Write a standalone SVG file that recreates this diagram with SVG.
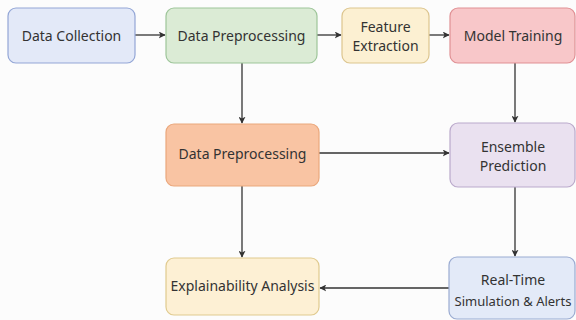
<svg xmlns="http://www.w3.org/2000/svg" width="576" height="320" viewBox="0 0 576 320">
<style>
  text { font-family: "Noto Sans", "Open Sans", sans-serif; font-size: 14px; fill: #333333; text-anchor: middle; dominant-baseline: central; }
  .box { stroke-width: 1.2; }
  .edge { stroke: #333333; stroke-width: 1.3; fill: none; marker-end: url(#ah); }
</style>
<defs>
  <marker id="ah" viewBox="0 0 10 10" refX="9" refY="5" markerWidth="7" markerHeight="7" markerUnits="userSpaceOnUse" orient="auto">
    <path d="M0,0 L10,5 L0,10 L2.5,5 Z" fill="#333333"/>
  </marker>
</defs>
<rect width="576" height="320" fill="#fcfcfc"/>
<g id="connectors">
  <line class="edge" x1="135" y1="35" x2="165" y2="35"/>
  <line class="edge" x1="317" y1="35" x2="341" y2="35"/>
  <line class="edge" x1="429" y1="35" x2="449" y2="35"/>
  <line class="edge" x1="242" y1="63" x2="242" y2="123"/>
  <line class="edge" x1="515" y1="63" x2="515" y2="122"/>
  <line class="edge" x1="319" y1="153" x2="449" y2="153"/>
  <line class="edge" x1="242" y1="186" x2="242" y2="257"/>
  <line class="edge" x1="515" y1="187" x2="515" y2="256"/>
  <line class="edge" x1="449" y1="288" x2="320" y2="288"/>
</g>
<g id="data-collection">
  <rect class="box" x="8" y="8" width="127" height="55" rx="8" fill="#e3e9f8" stroke="#93a6d6"/>
  <text x="71.5" y="35">Data Collection</text>
</g>
<g id="data-preprocessing-1">
  <rect class="box" x="166" y="8" width="151" height="55" rx="8" fill="#dbebd5" stroke="#9dc599"/>
  <text x="241.5" y="35">Data Preprocessing</text>
</g>
<g id="feature-extraction">
  <rect class="box" x="342" y="8" width="87" height="55" rx="8" fill="#fcf0d2" stroke="#dcc58e"/>
  <text x="385.5" y="26">Feature</text>
  <text x="385.5" y="45">Extraction</text>
</g>
<g id="model-training">
  <rect class="box" x="450" y="8" width="125" height="55" rx="8" fill="#f8c7c9" stroke="#e09094"/>
  <text x="513" y="35">Model Training</text>
</g>
<g id="data-preprocessing-2">
  <rect class="box" x="166" y="124" width="153" height="62" rx="8" fill="#f9c4a3" stroke="#eaa77c"/>
  <text x="242.5" y="153.5">Data Preprocessing</text>
</g>
<g id="ensemble-prediction">
  <rect class="box" x="450" y="123" width="125" height="64" rx="8" fill="#eae1f0" stroke="#baa9cb"/>
  <text x="513" y="146">Ensemble</text>
  <text x="513" y="165">Prediction</text>
</g>
<g id="explainability-analysis">
  <rect class="box" x="166" y="258" width="153" height="57" rx="8" fill="#fdf0d4" stroke="#e0ca8e"/>
  <text x="242.5" y="285">Explainability Analysis</text>
</g>
<g id="real-time">
  <rect class="box" x="449" y="257" width="126" height="62" rx="8" fill="#e3eaf8" stroke="#9aabd1"/>
  <text x="513" y="279">Real-Time</text>
  <text x="513" y="301" style="font-size:13px">Simulation &amp; Alerts</text>
</g>
</svg>
